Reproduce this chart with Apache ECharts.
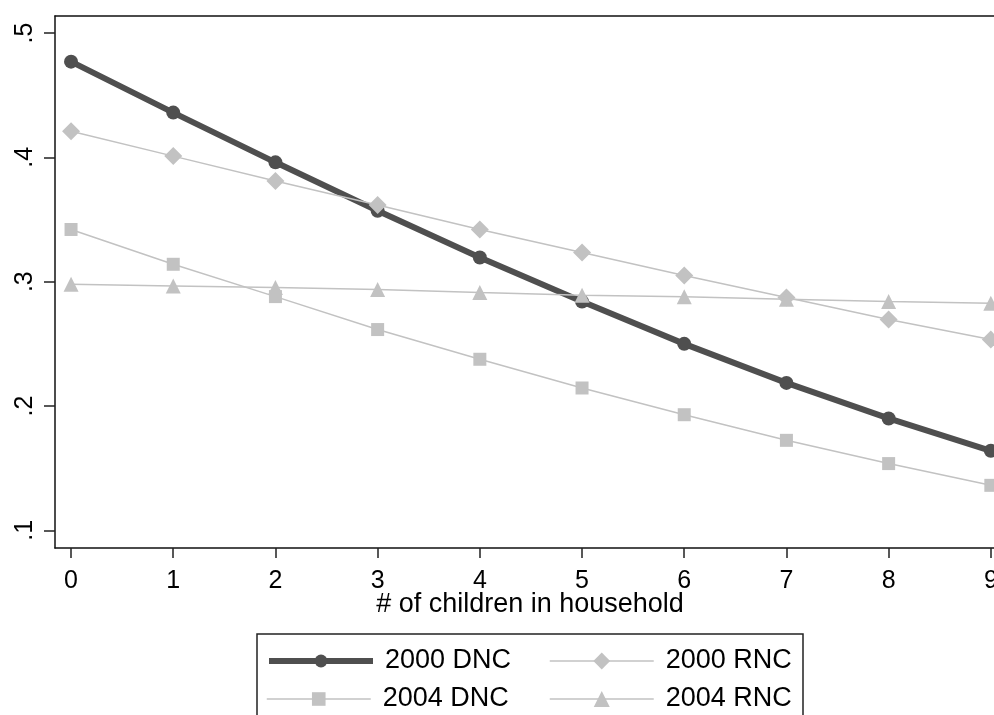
<!DOCTYPE html>
<html>
<head>
<meta charset="utf-8">
<script src="https://cdn.jsdelivr.net/npm/echarts@6/dist/echarts.min.js"></script>
<style>
html,body{margin:0;padding:0;background:#fff;}
#chart{width:994px;height:715px;}
</style>
</head>
<body>
<div id="chart"></div>
<script>
// Data
const children = [0, 1, 2, 3, 4, 5, 6, 7, 8, 9];
const dnc2000 = [0.477, 0.436, 0.396, 0.357, 0.3195, 0.284, 0.250, 0.2186, 0.190, 0.164];
const rnc2000 = [0.421, 0.401, 0.381, 0.3616, 0.342, 0.3235, 0.305, 0.2873, 0.2696, 0.2535];
const dnc2004 = [0.342, 0.314, 0.288, 0.2615, 0.2376, 0.2145, 0.193, 0.1724, 0.1537, 0.1362];
const rnc2004 = [0.298, 0.2966, 0.2953, 0.2937, 0.2913, 0.2891, 0.2878, 0.2859, 0.284, 0.2827];
const yTickValues = [0.1, 0.2, 0.3, 0.4, 0.5];
const yTickLabels = ['.1', '.2', '.3', '.4', '.5'];
const seriesNames = ['2000 DNC', '2000 RNC', '2004 DNC', '2004 RNC'];
const xTitle = '# of children in household';

const FONT = 'Liberation Sans, Arial, Helvetica, sans-serif';
const DARK = '#4f4f4f';
const LIGHT = '#c2c2c2';
const FRAME = '#111';
const X_MIN = -0.157, X_MAX = 9.031;

function pairs(vals) { return children.map((c, i) => [c, vals[i]]); }

function legendItem(name, left, centerY, itemH, lineW) {
  return {
    data: [{name: name, lineStyle: {width: lineW}}],
    left: left, top: centerY - 13.5,
    padding: 0,
    orient: 'horizontal',
    itemWidth: 104, itemHeight: itemH,
    textStyle: {fontFamily: FONT, fontSize: 27, color: '#000', padding: [0, 0, 0, 7]},
    selectedMode: false
  };
}

const chart = echarts.init(document.getElementById('chart'), null, {renderer: 'canvas'});
chart.setOption({
  backgroundColor: '#ffffff',
  animation: false,
  grid: {left: 55, right: 0, top: 16, bottom: 167, show: false, outerBoundsMode: 'none', containLabel: false},
  xAxis: [{
    type: 'value',
    min: X_MIN, max: X_MAX,
    name: xTitle,
    nameLocation: 'middle',
    nameGap: 43,
    nameMoveOverlap: false,
    nameTextStyle: {fontFamily: FONT, fontSize: 27, color: '#000', padding: [0, 0, 0, 11]},
    axisLine: {show: true, onZero: false, lineStyle: {color: FRAME, width: 1.5}},
    splitLine: {show: false},
    axisTick: {show: true, length: 10, lineStyle: {color: '#222', width: 1.5}, customValues: children},
    axisLabel: {fontFamily: FONT, fontSize: 25, color: '#000', margin: 21, customValues: children,
      formatter: v => String(v)}
  }, {
    type: 'value', position: 'top',
    min: X_MIN, max: X_MAX,
    axisLine: {show: true, onZero: false, lineStyle: {color: FRAME, width: 1.5}},
    splitLine: {show: false}, axisTick: {show: false}, axisLabel: {show: false}
  }],
  yAxis: {
    type: 'value',
    min: 0.0858, max: 0.5137,
    axisLine: {show: true, onZero: false, lineStyle: {color: FRAME, width: 1.5}},
    splitLine: {show: false},
    axisTick: {show: true, length: 11, lineStyle: {color: '#222', width: 1.5}, customValues: yTickValues},
    axisLabel: {fontFamily: FONT, fontSize: 25, color: '#000', margin: 17, rotate: 90,
      customValues: yTickValues,
      formatter: v => {
        const i = yTickValues.findIndex(t => Math.abs(t - v) < 1e-6);
        return i >= 0 ? yTickLabels[i] : '';
      }}
  },
  legend: [
    legendItem(seriesNames[0], 266, 661, 16, 6),
    legendItem(seriesNames[1], 549, 661, 21, 1.5),
    legendItem(seriesNames[2], 266, 699, 17, 1.5),
    legendItem(seriesNames[3], 549, 699, 20, 1.5)
  ],
  graphic: [{
    type: 'rect',
    shape: {x: 257, y: 634, width: 546, height: 120},
    style: {fill: 'none', stroke: '#222', lineWidth: 1.5},
    silent: true, z: 0
  }],
  series: [
    {
      name: seriesNames[0], type: 'line', data: pairs(dnc2000),
      symbol: 'circle', symbolSize: 14,
      lineStyle: {color: DARK, width: 6},
      itemStyle: {color: DARK}
    },
    {
      name: seriesNames[1], type: 'line', data: pairs(rnc2000),
      symbol: 'diamond', symbolSize: 18,
      lineStyle: {color: LIGHT, width: 1.5},
      itemStyle: {color: LIGHT}
    },
    {
      name: seriesNames[2], type: 'line', data: pairs(dnc2004),
      symbol: 'rect', symbolSize: 13,
      lineStyle: {color: LIGHT, width: 1.5},
      itemStyle: {color: LIGHT}
    },
    {
      name: seriesNames[3], type: 'line', data: pairs(rnc2004),
      symbol: 'triangle', symbolSize: 15,
      lineStyle: {color: LIGHT, width: 1.5},
      itemStyle: {color: LIGHT}
    }
  ]
});
</script>
</body>
</html>
